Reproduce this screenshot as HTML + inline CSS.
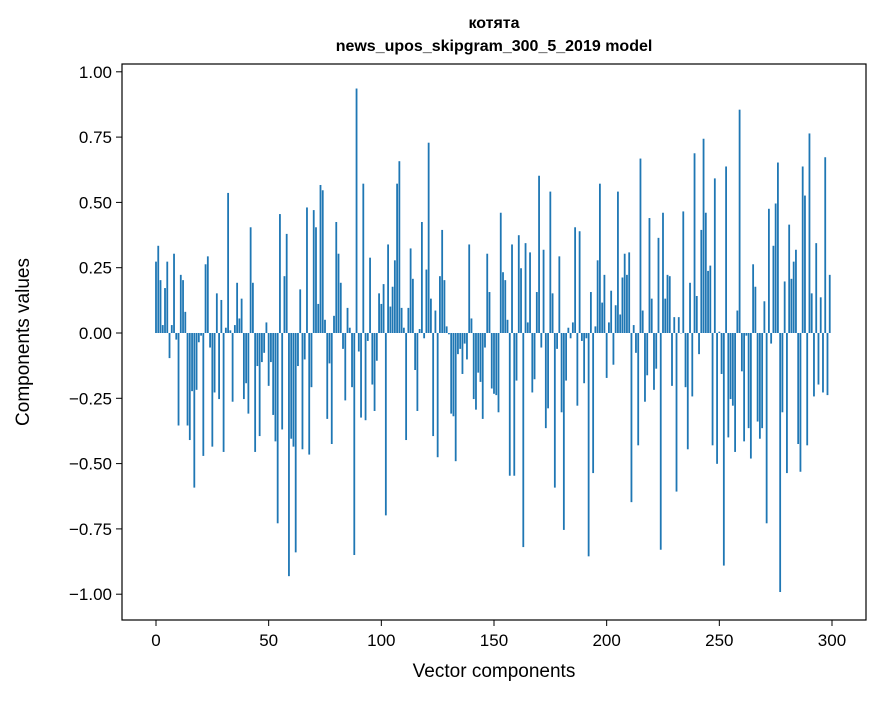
<!DOCTYPE html>
<html><head><meta charset="utf-8"><style>
body{margin:0;background:#fff;}
svg text{font-family:"Liberation Sans","DejaVu Sans",sans-serif;}
</style></head><body>
<svg id="chart" width="880" height="696" xmlns="http://www.w3.org/2000/svg">
<rect width="880" height="696" fill="#fff"/>
<text x="494" y="28" text-anchor="middle" font-size="16" font-weight="bold">котята</text>
<text x="494" y="51" text-anchor="middle" font-size="16" font-weight="bold">news_upos_skipgram_300_5_2019 model</text>
<g id="bars"></g>
<g id="axes"></g>
<rect x="122" y="64" width="744" height="556" fill="none" stroke="#000" stroke-width="1.2"/>
<text x="494" y="677" text-anchor="middle" font-size="19">Vector components</text>
<text x="0" y="0" transform="translate(29,342) rotate(-90)" text-anchor="middle" font-size="19">Components values</text>
</svg>
<script>
const values = [
0.27,0.33,0.20,0.03,0.17,0.27,-0.095,0.03,0.30,-0.025,
-0.35,0.22,0.20,0.08,-0.35,-0.405,-0.22,-0.585,-0.215,-0.035,
-0.01,-0.465,0.26,0.29,-0.055,-0.43,-0.225,0.15,-0.25,0.125,
-0.45,0.02,0.53,0.01,-0.26,0.03,0.19,0.055,0.13,-0.25,
-0.19,-0.305,0.40,0.19,-0.45,-0.125,-0.39,-0.11,-0.075,0.04,
-0.2,-0.11,-0.31,-0.41,-0.72,0.45,-0.365,0.215,0.375,-0.92,
-0.40,-0.43,-0.83,-0.125,0.165,-0.44,-0.10,0.475,-0.46,-0.205,
0.465,0.40,0.11,0.56,0.54,0.05,-0.325,-0.115,-0.42,0.065,
0.42,0.30,0.19,-0.06,-0.255,0.095,0.02,-0.205,-0.84,0.925,
-0.07,-0.32,0.565,-0.33,-0.03,0.285,-0.195,-0.295,-0.105,0.15,
0.11,0.185,-0.69,0.335,0.10,0.175,0.275,0.565,0.65,0.095,
0.02,-0.405,0.095,0.32,0.205,-0.14,-0.295,0.015,0.42,-0.02,
0.24,0.72,0.13,-0.39,0.085,-0.47,0.215,0.39,0.20,0.025,
-0.005,-0.305,-0.315,-0.485,-0.08,-0.06,-0.155,-0.04,-0.10,0.335,
0.055,-0.25,-0.29,-0.15,-0.185,-0.325,-0.055,0.30,0.155,-0.21,
-0.23,-0.235,-0.30,0.455,0.23,0.20,0.05,-0.54,0.335,-0.54,
-0.18,0.37,0.245,-0.81,0.34,0.04,0.305,-0.225,-0.175,0.155,
0.595,-0.055,0.315,-0.36,-0.285,0.535,0.15,-0.585,-0.06,0.29,
-0.30,-0.745,-0.18,0.02,-0.02,0.04,0.40,-0.275,0.385,-0.03,
-0.19,-0.02,-0.845,0.155,-0.53,0.025,0.275,0.565,0.115,0.22,
-0.17,0.04,0.16,-0.12,0.105,0.535,0.07,0.21,0.30,0.22,
0.305,-0.64,0.03,-0.075,-0.425,0.66,0.085,-0.26,-0.16,0.435,
0.13,-0.215,-0.135,0.36,-0.82,0.455,0.13,0.22,0.215,-0.20,
0.06,-0.60,0.06,0.0,0.46,-0.205,-0.44,0.19,-0.24,0.68,
0.14,-0.08,0.39,0.735,0.455,0.235,0.255,-0.425,0.585,-0.495,
0.005,-0.155,-0.88,0.63,-0.395,-0.25,-0.275,-0.45,0.085,0.845,
-0.145,-0.41,-0.01,-0.36,-0.475,0.26,0.175,-0.335,-0.40,-0.36,
0.12,-0.72,0.47,-0.04,0.33,0.49,0.645,-0.98,-0.30,0.195,
-0.53,0.41,0.205,0.27,0.315,-0.42,-0.525,0.63,0.52,-0.425,
0.755,0.15,-0.24,0.34,-0.195,0.135,-0.225,0.665,-0.235,0.22
];
const xTicks = [0,50,100,150,200,250,300];
const yTicks = [1.00,0.75,0.50,0.25,0.00,-0.25,-0.50,-0.75,-1.00];
const NS="http://www.w3.org/2000/svg";
function xs(v){return 156+v*2.2533;}
function ys(v){return 333-v*261.2;}
// measurement calibration for bar readings
function ybar(v){return 333-v*264.3;}
const bars=document.getElementById('bars');
values.forEach((v,i)=>{
  const r=document.createElementNS(NS,'rect');
  const y0=ybar(0),y1=ybar(v);
  r.setAttribute('x',xs(i-0.4));
  r.setAttribute('width',0.8*2.2533);
  r.setAttribute('y',Math.min(y0,y1));
  r.setAttribute('height',Math.max(Math.abs(y1-y0),0.3));
  r.setAttribute('fill','#1f77b4');
  
  
  bars.appendChild(r);
});
const axes=document.getElementById('axes');
xTicks.forEach(t=>{
  const l=document.createElementNS(NS,'line');
  l.setAttribute('x1',xs(t));l.setAttribute('x2',xs(t));
  l.setAttribute('y1',620);l.setAttribute('y2',626);
  l.setAttribute('stroke','#000');
  
  
  axes.appendChild(l);
  const tx=document.createElementNS(NS,'text');
  tx.setAttribute('x',xs(t));tx.setAttribute('y',646);
  tx.setAttribute('text-anchor','middle');tx.setAttribute('font-size','17');
  tx.textContent=t;
  
  
  axes.appendChild(tx);
});
yTicks.forEach(t=>{
  const l=document.createElementNS(NS,'line');
  l.setAttribute('x1',116);l.setAttribute('x2',122);
  l.setAttribute('y1',ys(t));l.setAttribute('y2',ys(t));
  l.setAttribute('stroke','#000');
  
  
  axes.appendChild(l);
  const tx=document.createElementNS(NS,'text');
  tx.setAttribute('x',112);tx.setAttribute('y',ys(t)+6);
  tx.setAttribute('text-anchor','end');tx.setAttribute('font-size','17');
  tx.textContent=(t<0?'\u2212':'')+Math.abs(t).toFixed(2);
  
  
  axes.appendChild(tx);
});
</script>
</body></html>
